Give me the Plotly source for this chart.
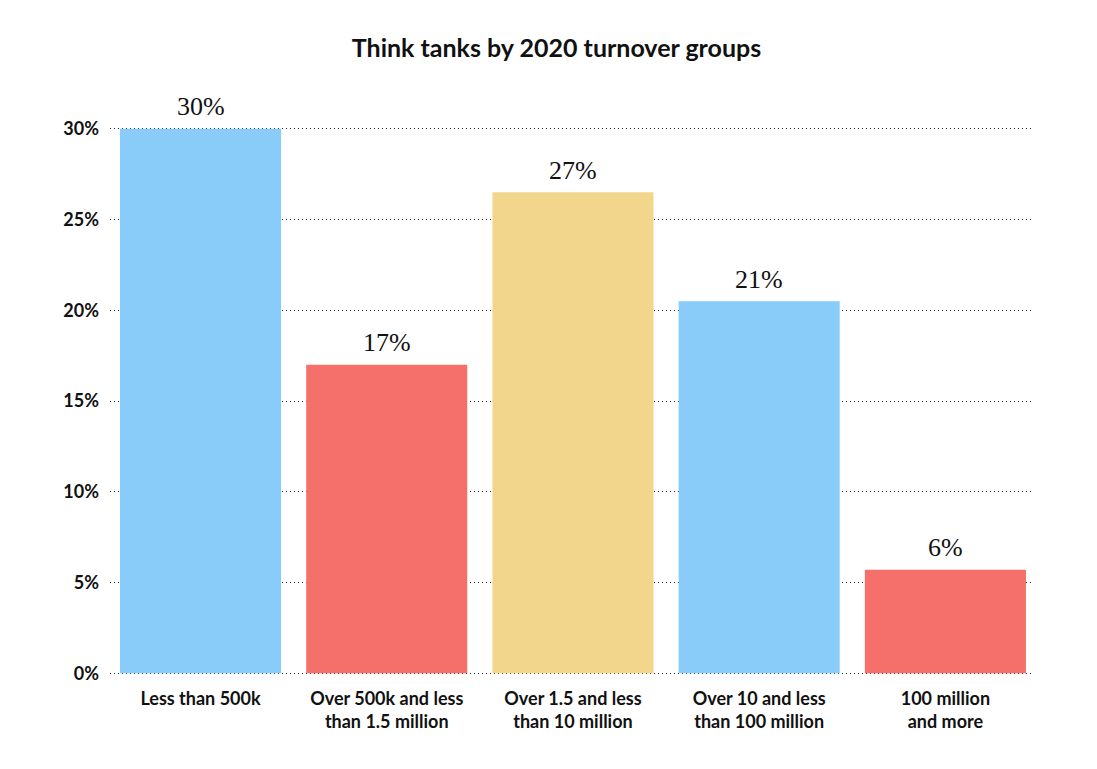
import plotly.graph_objects as go

categories = ["Less than 500k", "Over 500k and less<br>than 1.5 million", "Over 1.5 and less<br>than 10 million",
              "Over 10 and less<br>than 100 million", "100 million<br>and more"]
values = [30.0, 17.0, 26.5, 20.5, 5.7]
labels = ["30%", "17%", "27%", "21%", "6%"]
colors = ["#8ACCF9", "#F6706B", "#F2D68C", "#8ACCF9", "#F6706B"]
y_ticks = [0, 5, 10, 15, 20, 25, 30]
y_ticklabels = ["0%", "5%", "10%", "15%", "20%", "25%", "30%"]

W, H = 1097, 769
OFF = 8  # page body margin
# screen pixel positions of plot area
SL, SR, ST, SB = 110, 1032, 129, 673
PAD = 0.1
ppu = (SB - ST) / 30.0
L = SL - OFF
R = SR - OFF
T = ST - OFF - PAD * ppu
B = SB - OFF + PAD * ppu

fig = go.Figure(go.Bar(
    x=list(range(len(categories))), y=values, marker_color=colors, marker_line_width=0,
    cliponaxis=False, width=0.865,
))

for i, (v, lab) in enumerate(zip(values, labels)):
    fig.add_annotation(x=i, y=v, text=lab, showarrow=False, xref="x", yref="y",
                       yanchor="middle", yshift=22,
                       font=dict(family="Liberation Serif", size=26, color="#111111"))

fig.update_layout(
    width=W, height=H,
    margin=dict(l=L, r=W - R, t=T, b=H - B, pad=0),
    paper_bgcolor="white", plot_bgcolor="white",
    showlegend=False,
    title=dict(text="<b>Think tanks by 2020 turnover groups</b>", x=0.5, xanchor="center",
               y=1 - (48 - OFF) / H, yanchor="middle", font=dict(family="Lato", size=25, color="#111111")),
    xaxis=dict(tickmode="array", tickvals=list(range(len(categories))), ticktext=categories,
               range=[-0.486, 4.465], showgrid=False, zeroline=False, showline=False, ticks="",
               tickfont=dict(family="Lato", size=18, color="#111111", weight="bold"), ticklabelstandoff=11),
    yaxis=dict(range=[-PAD, 30 + PAD], tickmode="array", tickvals=y_ticks, ticktext=y_ticklabels,
               showgrid=True, gridcolor="#222222", griddash="1px,3px", gridwidth=1,
               zeroline=False, showline=False, ticks="",
               tickfont=dict(family="Lato", size=18, color="#111111", weight="bold"), ticklabelstandoff=10),
)

fig.write_html("out.html")
